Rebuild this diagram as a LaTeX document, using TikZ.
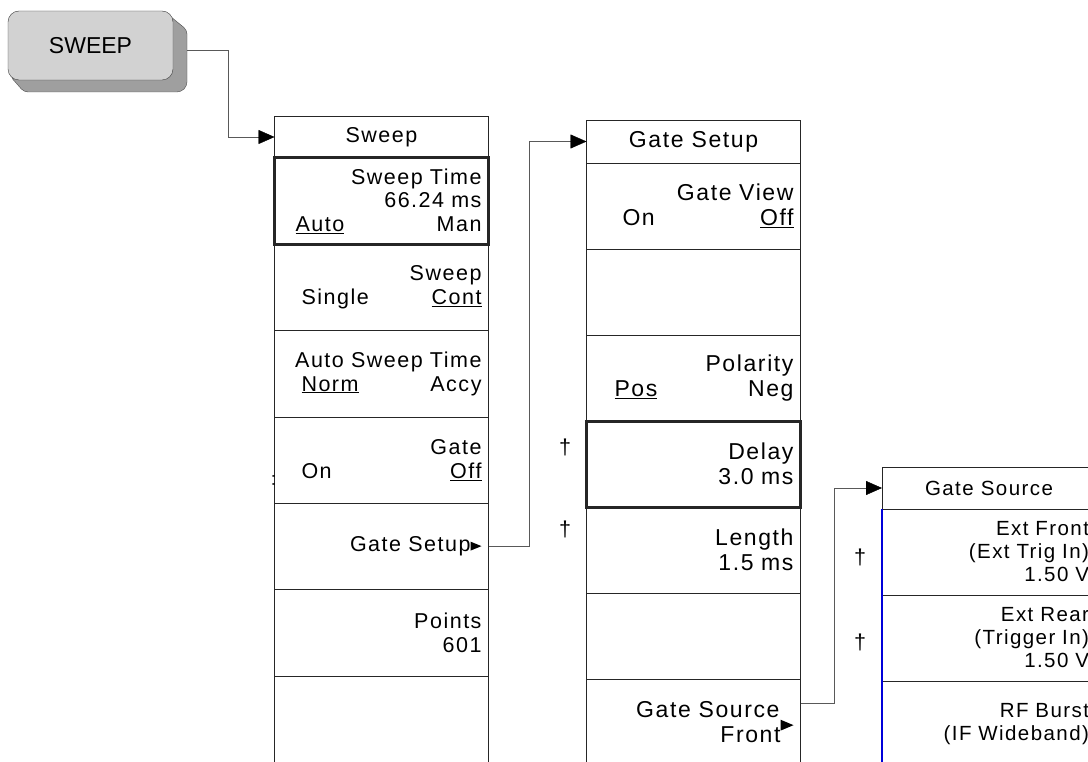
\documentclass[tikz,border=0pt]{standalone}
\usepackage{fontspec}
\setmainfont{Liberation Sans}
\newfontfamily\menufont[LetterSpace=7]{Liberation Sans}
\usetikzlibrary{positioning,arrows.meta}
\newcommand{\subtri}[2]{\tikz[baseline=0pt,x=1pt,y=1pt]\fill (0,0) -- (0,#2) -- (#1,#2/2) -- cycle;}

\begin{document}
\begin{tikzpicture}[
  x=1pt,y=-1pt,
  capkey/.style={rectangle,rounded corners=11pt,draw=black!75,fill=gray!35,
    minimum width=165pt,minimum height=69pt,font=\fontsize{23}{26}\selectfont},
  hdr/.style={draw=black!85,minimum width=214pt,inner sep=0pt,outer sep=0pt},
  softkey/.style={draw=black!85,minimum width=214pt,minimum height=86pt,text width=200pt,
    inner xsep=7pt,inner ysep=0pt,align=right,outer sep=0pt},
  active/.style={softkey,line width=3pt},
  conn/.style={draw=black!65,-{Triangle[length=16pt,width=14pt,color=black]}},
  mA/.style={font=\menufont\fontsize{21.5}{23.5}\selectfont},
  mB/.style={font=\menufont\fontsize{23}{25.5}\selectfont},
  mC/.style={font=\menufont\fontsize{20.5}{23}\selectfont}]

\useasboundingbox (0,0) rectangle (1088,762);
\clip (0,0) rectangle (1088,762);

% ---- hard key ----
\filldraw[draw=black!70,fill=gray!75,rounded corners=4pt]
  (165,12) -- (187,30) -- (187,86) -- (181,92) -- (24,92) -- (10,76) -- cycle;
\node[capkey] (sweep) at (90.5,45.5) {SWEEP};

% ---- menu 1: Sweep ----
\node[hdr,mA,minimum height=42pt,anchor=north] (m1h) at (381.5,116) {Sweep};
\node[active,mA,minimum height=86.3pt,below=0pt of m1h] (m1k1)
  {Sweep Time\\66.24 ms\\\hspace*{14pt}\underline{Auto}\hfill Man};
\node[softkey,mA,minimum height=86.3pt,below=0pt of m1k1] (m1k2)
  {Sweep\\\hspace*{20pt}Single\hfill\underline{Cont}};
\node[softkey,mA,minimum height=86.3pt,below=0pt of m1k2] (m1k3)
  {Auto Sweep Time\\\hspace*{20pt}\underline{Norm}\hfill Accy};
\node[softkey,mA,minimum height=86.3pt,below=0pt of m1k3] (m1k4)
  {Gate\\\hspace*{20pt}On\hfill\underline{Off}};
\node[softkey,mA,minimum height=86.3pt,below=0pt of m1k4] (m1k5)
  {Gate Setup\raisebox{1pt}{\subtri{11}{9}}};
\node[softkey,mA,minimum height=86.3pt,below=0pt of m1k5] (m1k6) {Points\\601};
\node[softkey,mA,minimum height=86.3pt,below=0pt of m1k6] (m1k7) {};
\begin{scope}
  \clip (255,460) rectangle (274.5,500);
  \node[mA] (dd1) at (277,480) {‡};
\end{scope}

% ---- menu 2: Gate Setup ----
\node[hdr,mB,minimum height=43pt,anchor=north] (m2h) at (693.5,120) {Gate Setup};
\node[softkey,mB,below=0pt of m2h] (m2k1)
  {Gate View\\\hspace*{29pt}On\hfill\underline{Off}};
\node[softkey,mB,below=0pt of m2k1] (m2k2) {};
\node[softkey,mB,below=0pt of m2k2] (m2k3)
  {Polarity\\\hspace*{21pt}\underline{Pos}\hfill Neg};
\node[active,mB,below=0pt of m2k3] (m2k4) {Delay\\3.0 ms};
\node[softkey,mB,below=0pt of m2k4] (m2k5) {Length\\1.5 ms};
\node[softkey,mB,below=0pt of m2k5] (m2k6) {};
\node[softkey,mB,below=0pt of m2k6] (m2k7)
  {Gate Source\makebox[14pt]{}\\Front\raisebox{12pt}{\subtri{13}{11}}};
\node[mA] (dg1) at (565,447) {†};
\node[mA] (dg2) at (565,529) {†};

% ---- menu 3: Gate Source ----
\node[hdr,mC,minimum height=42pt,anchor=north] (m3h) at (989,467) {Gate Source};
\node[softkey,mC,below=0pt of m3h] (m3k1) {Ext Front\\(Ext Trig In)\\1.50 V};
\node[softkey,mC,below=0pt of m3k1] (m3k2) {Ext Rear\\(Trigger In)\\1.50 V};
\node[softkey,mC,below=0pt of m3k2] (m3k3) {RF Burst\\(IF Wideband)};
\draw[blue!85!black,line width=2.5pt] (m3k1.north west) -- (m3k3.south west);
\node[mA] (dg3) at (860,557) {†};
\node[mA] (dg4) at (860,642) {†};

% ---- connectors ----
\draw[conn] ([xshift=14pt,yshift=-5pt]sweep.east) -- ++(41,0) |- (m1h.west);
\draw[conn] (m1k5.east) -- ++(41,0) |- (m2h.west);
\draw[conn] ([yshift=19pt]m2k7.east) -- ++(34,0) |- (m3h.west);
\end{tikzpicture}
\end{document}
